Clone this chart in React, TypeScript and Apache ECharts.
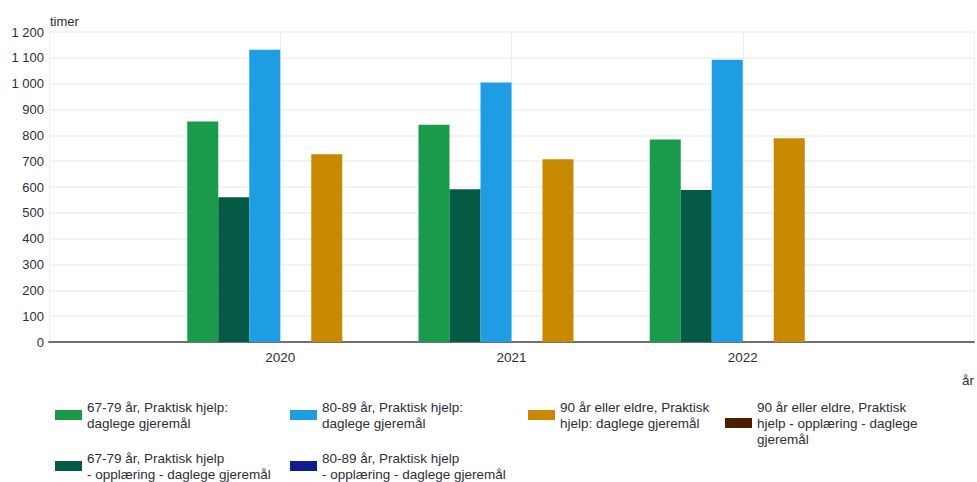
import React, { useEffect, useRef } from "react";
import * as echarts from "echarts";

const categories = ["", "2020", "2021", "2022", ""];
const yTicks = { min: 0, max: 1200, interval: 100 };

const seriesNames = [
  "67-79 år, Praktisk hjelp: daglege gjeremål",
  "67-79 år, Praktisk hjelp - opplæring - daglege gjeremål",
  "80-89 år, Praktisk hjelp: daglege gjeremål",
  "80-89 år, Praktisk hjelp - opplæring - daglege gjeremål",
  "90 år eller eldre, Praktisk hjelp: daglege gjeremål",
  "90 år eller eldre, Praktisk hjelp - opplæring - daglege gjeremål",
];
const legendLabels = [
  "67-79 år, Praktisk hjelp:\ndaglege gjeremål",
  "67-79 år, Praktisk hjelp\n- opplæring - daglege gjeremål",
  "80-89 år, Praktisk hjelp:\ndaglege gjeremål",
  "80-89 år, Praktisk hjelp\n- opplæring - daglege gjeremål",
  "90 år eller eldre, Praktisk\nhjelp: daglege gjeremål",
  "90 år eller eldre, Praktisk\nhjelp - opplæring - daglege\ngjeremål",
];
const colors = ["#1a9b4b", "#055a45", "#1e9de3", "#0e1f8a", "#c88800", "#4a1e00"];

const v6779Daglege = [null, 854, 841, 784, null];
const v6779Opplaering = [null, 560, 591, 588, null];
const v8089Daglege = [null, 1131, 1005, 1093, null];
const v8089Opplaering = [null, null, null, null, null];
const v90Daglege = [null, 727, 707, 789, null];
const v90Opplaering = [null, null, null, null, null];

const seriesValues = [
  v6779Daglege,
  v6779Opplaering,
  v8089Daglege,
  v8089Opplaering,
  v90Daglege,
  v90Opplaering,
];

const FONT = "Liberation Sans, Arial, sans-serif";
const TEXT = "#2e2e3a";

export default function App() {
  const ref = useRef<HTMLDivElement>(null);
  useEffect(() => {
    if (!ref.current) return;
    const chart = echarts.init(ref.current, undefined, { renderer: "svg" });
    const legendBase = {
      orient: "vertical",
      top: 399,
      padding: 0,
      itemWidth: 27,
      itemHeight: 10,
      itemGap: 19,
      icon: "rect",
      selectedMode: false,
      textStyle: { fontFamily: FONT, fontSize: 13.5, color: TEXT, lineHeight: 16 },
      formatter: (name: string) => legendLabels[seriesNames.indexOf(name)],
    };
    chart.setOption({
      animation: false,
      textStyle: { fontFamily: FONT },
      grid: { left: 49, right: 0, top: 32, bottom: 140, containLabel: false },
      legend: [
        { ...legendBase, left: 55, data: [seriesNames[0], seriesNames[1]] },
        { ...legendBase, left: 290, data: [seriesNames[2], seriesNames[3]] },
        { ...legendBase, left: 528, data: [seriesNames[4]] },
        { ...legendBase, left: 725, data: [seriesNames[5]] },
      ],
      xAxis: {
        type: "category",
        data: categories,
        boundaryGap: false,
        name: "år",
        nameLocation: "end",
        nameGap: 0,
        nameTextStyle: {
          fontFamily: FONT,
          fontSize: 13.5,
          color: TEXT,
          align: "right",
          verticalAlign: "top",
          padding: [31, 0, 0, 0],
        },
        axisLine: { lineStyle: { color: "#707070", width: 2 } },
        axisTick: { show: false },
        axisLabel: { interval: 0, fontFamily: FONT, fontSize: 13.5, color: TEXT, margin: 8 },
        splitLine: { show: true, lineStyle: { color: "#eceff0", width: 1 } },
      },
      yAxis: {
        type: "value",
        min: yTicks.min,
        max: yTicks.max,
        interval: yTicks.interval,
        name: "timer",
        nameLocation: "end",
        nameGap: 4,
        nameTextStyle: {
          fontFamily: FONT,
          fontSize: 13,
          color: TEXT,
          align: "left",
          padding: [0, 0, 0, 1],
        },
        axisLine: { show: false },
        axisTick: { show: false },
        axisLabel: {
          fontFamily: FONT,
          fontSize: 13,
          color: TEXT,
          margin: 5,
          formatter: (v: number) => String(v).replace(/\B(?=(\d{3})+(?!\d))/g, " "),
        },
        splitLine: { lineStyle: { color: "#eceff0", width: 1.5 } },
      },
      series: seriesNames.map((name, i) => ({
        name,
        type: "bar",
        data: seriesValues[i],
        barWidth: 31,
        barGap: "0%",
        itemStyle: { color: colors[i] },
      })),
    });
    return () => chart.dispose();
  }, []);
  return (
    <div
      ref={ref}
      style={{ position: "fixed", left: 0, top: 0, width: 977, height: 482, background: "#fff" }}
    />
  );
}
